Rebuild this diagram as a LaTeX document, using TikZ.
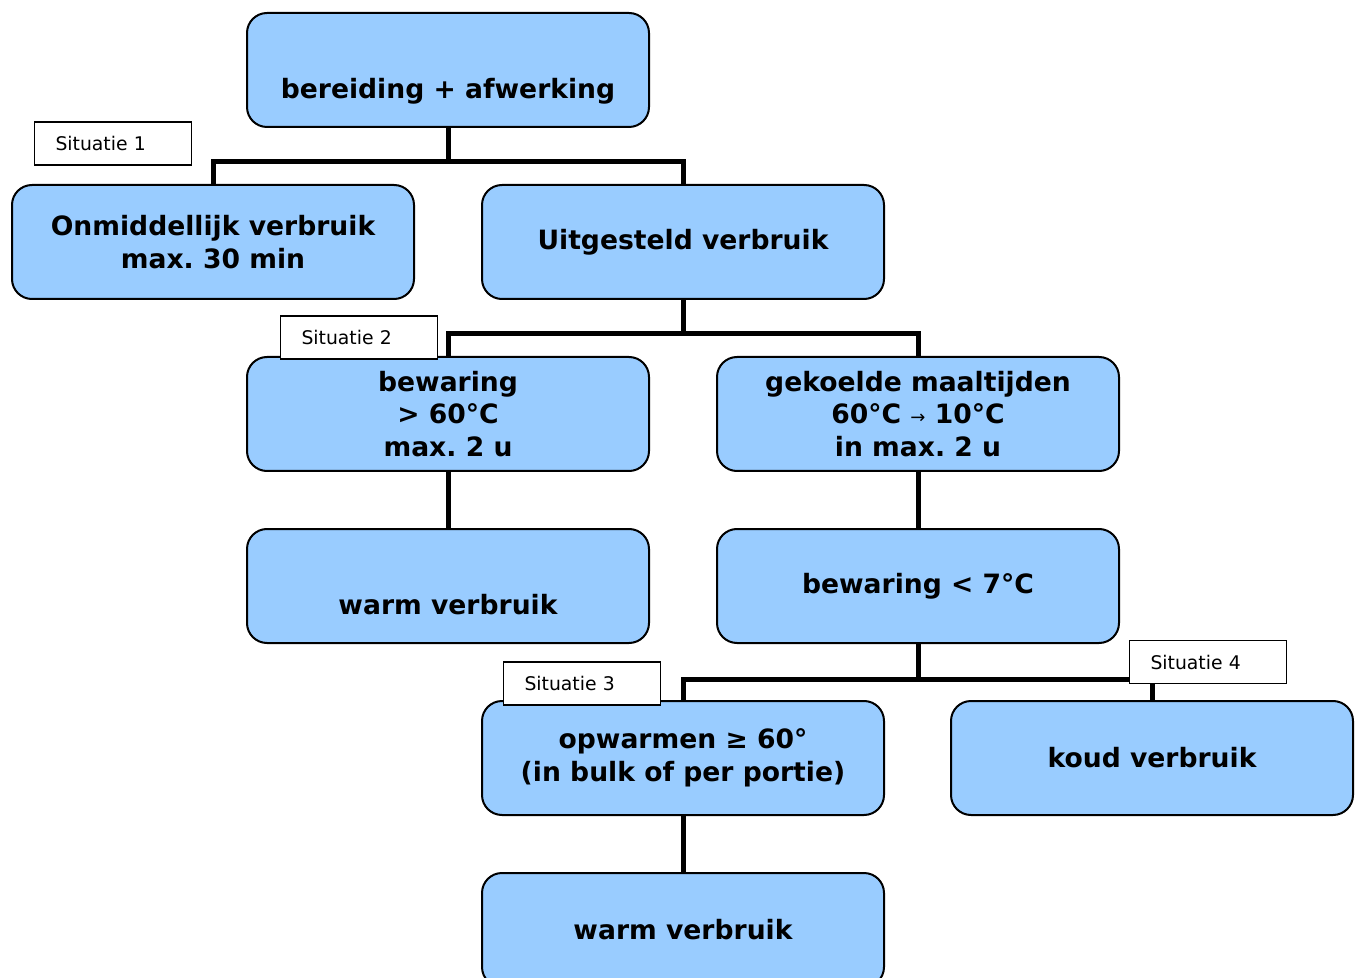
\documentclass[tikz,border=0pt]{standalone}
\usepackage{fontspec}
\setmainfont{DejaVu Sans}
\definecolor{boxblue}{RGB}{153,204,255}
\frenchspacing
\begin{document}
\begin{tikzpicture}[x=0.5pt,y=-0.5pt,
  stap/.style={draw, line width=1pt, fill=boxblue, rounded corners=10pt,
    minimum width=201pt, minimum height=57pt, inner sep=0pt, align=center,
    font=\bfseries\fontsize{13.3}{16.3}\selectfont},
  situatie/.style={draw, line width=0.6pt, fill=white, minimum height=21.5pt,
    text width=57.5pt, inner xsep=10.5pt, align=left,
    font=\fontsize{9.4}{10}\selectfont},
  link/.style={line width=2.5pt}]
\useasboundingbox (0,0) rectangle (1360,978);
\clip (0,0) rectangle (1360,978);
% boxes
\node[stap] (bereiding) at (448,70) {\strut\\[4pt]bereiding + afwerking};
\node[stap] (onmiddellijk) at (213,242) {Onmiddellijk verbruik\\max. 30 min};
\node[stap] (uitgesteld) at (683,242) {Uitgesteld verbruik};
\node[stap] (bewaringwarm) at (448,414) {bewaring\\> 60°C\\max. 2 u};
\node[stap] (gekoeld) at (918,414) {gekoelde maaltijden\\60°C {\mdseries\fontsize{9}{9}\selectfont →} 10°C\\in max. 2 u};
\node[stap] (warmA) at (448,586) {\strut\\[0.5pt]warm verbruik};
\node[stap] (bewaringkoud) at (918,586) {bewaring < 7°C};
\node[stap] (opwarmen) at (683,758) {opwarmen ≥ 60°\\(in bulk of per portie)};
\node[stap] (koud) at (1152,758) {koud verbruik};
\node[stap] (warmB) at (683,930) {warm verbruik};
% connectors
\coordinate (j1) at (448,162);
\coordinate (j2) at (683,334);
\coordinate (j3) at (918,679);
\draw[link] (bereiding.south) -- (j1);
\draw[link] (onmiddellijk.north) |- (j1) -| (uitgesteld.north);
\draw[link] (uitgesteld.south) -- (j2);
\draw[link] (bewaringwarm.north) |- (j2) -| (gekoeld.north);
\draw[link] (bewaringwarm.south) -- (warmA.north);
\draw[link] (gekoeld.south) -- (bewaringkoud.north);
\draw[link] (bewaringkoud.south) -- (j3);
\draw[link] (opwarmen.north) |- (j3) -| (koud.north);
\draw[link] (opwarmen.south) -- (warmB.north);
% situaties
\node[situatie] (sit1) at (113,143.5) {Situatie 1};
\node[situatie] (sit2) at (359,337.5) {Situatie 2};
\node[situatie] (sit3) at (582,683.5) {Situatie 3};
\node[situatie] (sit4) at (1208,662) {Situatie 4};
\end{tikzpicture}
\end{document}
